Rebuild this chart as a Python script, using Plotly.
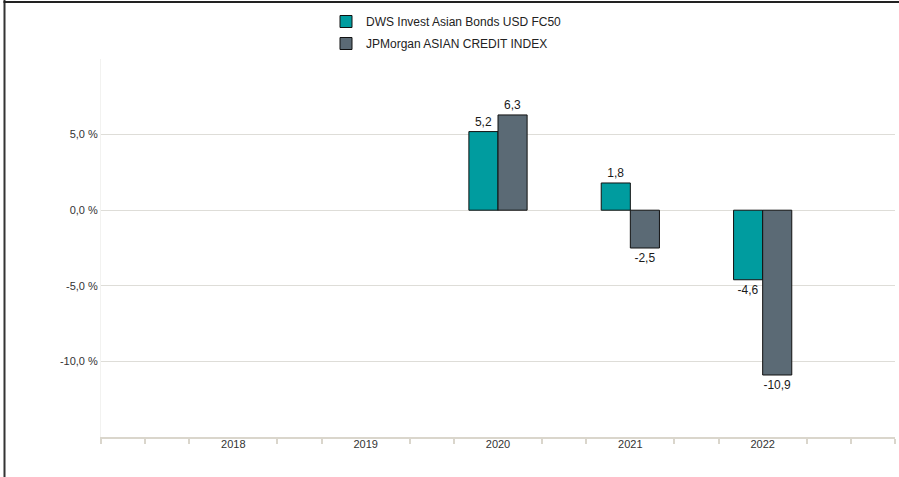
import plotly.graph_objects as go

years = ["2018", "2019", "2020", "2021", "2022"]
fund = [None, None, 5.2, 1.8, -4.6]
index = [None, None, 6.3, -2.5, -10.9]
fund_name = "DWS Invest Asian Bonds USD FC50"
index_name = "JPMorgan ASIAN CREDIT INDEX"
y_ticks = [-10, -5, 0, 5, 10]
y_tick_labels = ["-10,0 %", "-5,0 %", "0,0 %", "5,0 %", ""]

W, H = 899, 477
ML, MR, MT, MB = 101, 4, 59, 40
pw, ph = W - ML - MR, H - MT - MB

def fmt(v):
    return "" if v is None else f"{v:.1f}".replace(".", ",")

xpos = list(range(len(years)))

fig = go.Figure()
fig.add_trace(go.Bar(
    x=xpos, y=fund, name=fund_name, legendgroup="a",
    marker=dict(color="#009C9F", line=dict(color="#111111", width=1)),
    text=[fmt(v) for v in fund], textposition="outside",
    textfont=dict(size=12, color="#1A1A1A"), cliponaxis=False,
))
fig.add_trace(go.Bar(
    x=xpos, y=index, name=index_name, legendgroup="b",
    marker=dict(color="#5B6A75", line=dict(color="#111111", width=1)),
    text=[fmt(v) for v in index], textposition="outside",
    textfont=dict(size=12, color="#1A1A1A"), cliponaxis=False,
))

minor_vals = []
for k in range(-1, 5):
    minor_vals += [k + 1/3, k + 2/3]
minor_vals = [-1] + minor_vals + [5]

fig.update_layout(
    width=W, height=H,
    margin=dict(l=ML, r=MR, t=MT, b=MB),
    paper_bgcolor="white", plot_bgcolor="white",
    barmode="group", bargap=0.56, bargroupgap=0,
    font=dict(family="Liberation Sans, Arial, sans-serif", size=11, color="#333333"),
    showlegend=True,
    legend=dict(
        x=(326 - ML) / pw, y=(H - MB - 7) / ph, xanchor="left", yanchor="top",
        orientation="v", font=dict(size=12, color="#222222"),
        bgcolor="rgba(0,0,0,0)", tracegroupgap=3,
    ),
    xaxis=dict(
        range=[-1, 5], tickvals=xpos, ticktext=years,
        showgrid=False, zeroline=False,
        showline=True, linecolor="#DAD6CC", linewidth=2,
        ticks="", tickfont=dict(size=11, color="#333333"),
        ticklabelstandoff=-4,
        minor=dict(tickvals=minor_vals, ticks="outside", ticklen=5,
                   tickcolor="#DAD6CC", tickwidth=2, showgrid=False),
    ),
    yaxis=dict(
        range=[-15, 10], tickvals=y_ticks, ticktext=y_tick_labels,
        showgrid=True, gridcolor="#DEDDD8", gridwidth=1,
        zeroline=False, showline=True, linecolor="#F2F2F0", linewidth=1,
        ticks="", tickfont=dict(size=11, color="#333333"),
    ),
    shapes=[
        dict(type="line", xref="paper", yref="paper",
             x0=(4.5 - ML) / pw, x1=(4.5 - ML) / pw, y0=(H - MB - 0) / ph, y1=(H - MB - H) / ph,
             line=dict(color="#333333", width=2)),
        dict(type="line", xref="paper", yref="paper",
             x0=(3.5 - ML) / pw, x1=(W - ML) / pw, y0=(H - MB - 2) / ph, y1=(H - MB - 2) / ph,
             line=dict(color="#222222", width=2)),
    ],
)

fig.write_html(
    "out.html",
    config={"displayModeBar": False},
    post_script="document.body.style.margin='0';document.body.style.overflow='hidden';",
)
